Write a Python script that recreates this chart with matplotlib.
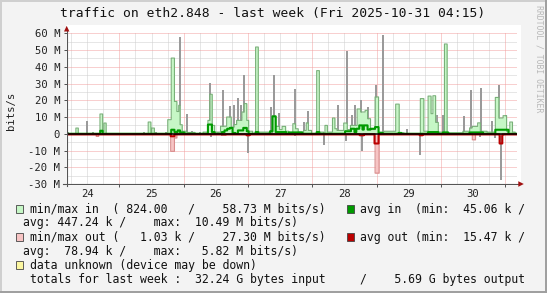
import numpy as np
import matplotlib
matplotlib.use("Agg")
import matplotlib.pyplot as plt
from matplotlib.patches import Rectangle, Polygon
from matplotlib.lines import Line2D

plt.rcParams['font.family'] = ['DejaVu Sans Mono']

W, H = 547, 293

title = "traffic on eth2.848 - last week (Fri 2025-10-31 04:15)"
watermark = "RRDTOOL / TOBI OETIKER"
y_label = "bits/s"
day_labels = ["24", "25", "26", "27", "28", "29", "30"]
first_midnight_h = 19.75   # hours from 2025-10-24 04:15 to 2025-10-25 00:00
span_h = 168
y_ticks = [-30, -20, -10, 0, 10, 20, 30, 40, 50, 60]
y_tick_labels = ["-30 M", "-20 M", "-10 M", "0", "10 M", "20 M",
                 "30 M", "40 M", "50 M", "60 M"]

# (start hour, end hour, Mbit/s)
in_max_segments = [
    (3.5, 4.4, 3.4), (12.5, 13.5, 11.8), (13.5, 14.0, 1.0), (14.0, 14.8, 6.4),
    (30.5, 31.5, 7.0), (31.8, 32.8, 3.4),
    (37.8, 39.1, 8.4), (39.1, 40.3, 45.2), (40.3, 41.2, 19.3), (41.2, 41.9, 13.3),
    (41.9, 42.4, 17.0), (42.4, 43.2, 5.4), (43.2, 45.0, 1.5), (45.0, 48.0, 0.8),
    (51.0, 52.8, 1.0), (52.8, 53.5, 8.0), (53.5, 54.4, 23.6), (54.4, 55.3, 5.0),
    (55.3, 57.5, 1.0), (57.5, 59.8, 4.5), (59.8, 61.5, 10.0), (61.5, 62.5, 4.0),
    (62.5, 63.5, 5.5), (63.5, 65.5, 8.0), (65.5, 66.3, 13.0), (66.3, 67.3, 18.0),
    (67.3, 68.0, 8.0), (68.0, 69.5, 1.5), (70.6, 71.6, 51.8), (71.6, 75.5, 1.0),
    (76.9, 78.1, 10.5), (78.1, 79.5, 4.4), (79.5, 80.5, 2.5), (80.5, 81.8, 4.4),
    (81.8, 83.0, 1.5), (84.5, 85.5, 6.0), (85.5, 86.5, 3.0), (86.5, 88.5, 1.0),
    (88.5, 89.5, 2.0), (89.5, 90.3, 6.5), (90.3, 91.5, 2.0),
    (93.4, 94.4, 37.7), (94.4, 96.0, 1.0), (96.5, 97.4, 5.0), (97.4, 99.3, 1.0),
    (99.3, 100.2, 9.4), (100.2, 101.0, 3.0), (101.0, 103.5, 2.0),
    (103.5, 104.8, 6.4), (104.8, 106.0, 2.5), (106.0, 108.5, 5.0),
    (108.5, 109.8, 14.8), (109.8, 111.5, 13.0), (111.5, 112.4, 14.0),
    (112.4, 113.5, 9.0), (113.5, 115.2, 2.5), (115.2, 116.5, 22.0),
    (116.5, 118.5, 1.0), (118.5, 122.9, 1.5), (122.9, 124.2, 17.7), (124.2, 126.0, 0.5),
    (132.1, 133.4, 21.0), (133.4, 135.0, 1.5), (135.0, 136.1, 22.5),
    (136.1, 136.8, 12.0), (136.8, 137.8, 22.7), (137.8, 138.8, 6.8),
    (138.8, 141.1, 1.0), (141.1, 142.1, 53.6), (142.1, 148.0, 0.5),
    (148.0, 150.5, 1.5), (150.5, 151.5, 3.5), (151.5, 153.5, 4.4),
    (153.5, 154.5, 6.5), (154.5, 157.0, 1.5), (157.0, 160.1, 1.0),
    (160.1, 161.4, 21.7), (161.4, 163.0, 9.4), (163.0, 164.3, 10.8),
    (164.3, 165.5, 1.5), (165.5, 166.5, 7.0), (166.5, 167.5, 1.0),
]

in_avg_segments = [
    (12.6, 13.5, 1.8), (39.1, 40.3, 2.4), (40.3, 41.5, 1.0), (41.5, 42.4, 2.0),
    (42.4, 44.0, 0.8), (52.8, 54.3, 5.5), (54.3, 55.3, 1.0),
    (58.0, 59.0, 1.0), (59.0, 60.0, 2.0), (60.0, 61.0, 3.0), (61.0, 62.0, 3.5),
    (62.0, 63.0, 0.5), (64.0, 66.0, 2.0), (66.0, 67.3, 3.5), (67.3, 68.0, 1.5),
    (70.6, 71.6, 1.0), (76.0, 76.9, 1.5), (76.9, 78.1, 10.4), (78.1, 82.0, 1.0),
    (83.0, 88.0, 0.8), (93.4, 94.4, 1.0),
    (104.0, 106.2, 1.5), (106.2, 107.5, 3.0), (107.5, 108.2, 1.0),
    (108.2, 109.3, 3.0), (109.3, 110.5, 5.0), (110.5, 111.0, 2.5),
    (111.0, 112.4, 5.0), (112.4, 113.5, 2.5), (113.5, 115.2, 3.0),
    (115.2, 116.5, 4.0), (116.5, 118.0, 0.5), (124.0, 125.0, 0.5),
    (135.0, 138.8, 1.0), (140.5, 142.5, 0.8), (150.5, 155.5, 0.8),
    (160.1, 165.0, 2.4),
]

out_max_segments = [
    (11.1, 12.0, 1.6), (38.9, 40.3, 10.5), (40.3, 41.2, 2.5), (58.5, 59.5, 1.0),
    (115.2, 116.7, 23.5), (151.5, 152.7, 3.6), (161.5, 163.2, 1.0),
]

out_avg_base = 0.4
out_avg_segments = [
    (38.9, 40.3, 1.5), (67.3, 68.3, 0.9), (109.5, 111.0, 0.9),
    (115.0, 116.5, 5.8), (131.9, 132.9, 0.9), (161.7, 162.7, 5.8),
]

# peak (5-min max) spikes: hour, Mbit/s
peak_hours = [0.5, 7.8, 10.0, 29.0, 33.5, 37.0, 40.8, 42.2, 45.0, 47.0, 50.0,
              53.7, 56.5, 58.6, 61.2, 62.7, 64.2, 65.0, 66.2, 76.2, 77.3, 79.2,
              85.4, 88.8, 90.3, 101.4, 104.9, 106.5, 107.8, 109.9, 112.7, 115.5,
              118.3, 127.2, 138.5, 140.6, 148.4, 150.9, 154.6, 158.9, 161.5, 164.0,
              3.0, 11.5, 53.8, 58.0, 67.6, 85.2, 96.2, 104.3, 110.5, 132.1, 154.4,
              159.8, 162.3]
peak_values = [1.0, 7.8, 1.0, 1.0, 0.8, 1.0, 16.0, 57.6, 11.8, 1.5, 1.0,
               30.3, 1.0, 26.3, 16.5, 17.3, 21.3, 17.0, 34.8, 16.0, 34.8, 12.4,
               26.7, 7.0, 13.7, 17.3, 49.2, 11.4, 17.3, 20.3, 15.7, 29.3,
               58.7, 3.0, 11.4, 11.4, 10.4, 26.3, 27.3, 7.4, 28.9, 11.0,
               -1.0, -2.0, -2.0, -1.5, -11.2, -1.6, -6.8, -4.6, -10.2, -12.6, -2.2,
               -2.6, -27.5]

legend_lines = [
    ("min/max in  ( 824.00   /    58.73 M bits/s)", "avg in  (min:  45.06 k /"),
    ("avg: 447.24 k /    max:  10.49 M bits/s)", None),
    ("min/max out (   1.03 k /    27.30 M bits/s)", "avg out (min:  15.47 k /"),
    ("avg:  78.94 k /    max:   5.82 M bits/s)", None),
    ("data unknown (device may be down)", None),
    ("totals for last week :  32.24 G bytes input     /    5.69 G bytes output", None),
]

C_IN_MAX, C_IN_MAX_EDGE = "#c6f7c6", "#78b078"
C_IN_AVG = "#009a00"
C_OUT_MAX, C_OUT_MAX_EDGE = "#f7c4c4", "#d88c8c"
C_OUT_AVG = "#bb0000"
C_UNKNOWN = "#fbf6a0"
C_PEAK = "#9a9a9a"
C_BG = "#f3f3f3"

# ---------------------------------------------------------------
fig = plt.figure(figsize=(W / 100, H / 100), dpi=100, facecolor=C_BG)

def fx(x):
    return x / W

def fy(y):
    return 1 - y / H

# white canvas
fig.patches.append(Rectangle((fx(66), fy(186)), (521 - 66) / W, (186 - 25) / H,
                             transform=fig.transFigure, facecolor="white",
                             edgecolor="none", zorder=-5))

ax = fig.add_axes([fx(66.5), fy(184), 450 / W, (184 - 33.3) / H])
ax.set_zorder(1)
ax.set_facecolor("white")
ax.set_xlim(0, span_h)
ax.set_ylim(-30, 60)
for s in ax.spines.values():
    s.set_visible(False)

dot = (0, (1, 1))
for v in range(-25, 61, 5):
    if v == 0:
        continue
    if v % 10 == 0:
        ax.axhline(v, color="#f2a0a0", lw=0.72, ls=dot, zorder=0.6)
    else:
        ax.axhline(v, color="#cfcfcf", lw=0.72, ls=dot, zorder=0.5)
midnights = [first_midnight_h + 24 * k for k in range(len(day_labels))]
noons = [m - 12 for m in midnights]
h = first_midnight_h - 18
while h < span_h:
    if not any(abs(h - m) < 1e-6 for m in midnights):
        ax.axvline(h, color="#cfcfcf", lw=0.72, ls=dot, zorder=0.5)
    h += 6
for m in midnights:
    ax.axvline(m, color="#f2a0a0", lw=0.72, ls=dot, zorder=0.6)

t = np.arange(0, span_h + 0.025, 0.05)

def build(segs, base=0.0):
    v = np.full_like(t, base)
    for s, e, val in segs:
        v[(t >= s) & (t < e)] = val
    return v

in_max = build(in_max_segments)
in_avg = build(in_avg_segments)
out_max = build(out_max_segments)
out_avg = build(out_avg_segments, out_avg_base)

ax.bar(peak_hours, peak_values, width=0.75, color=C_PEAK, lw=0, zorder=1)

ax.fill_between(t, 0, in_max, step="post", color=C_IN_MAX, lw=0, zorder=2)
ax.step(t, in_max, where="post", color=C_IN_MAX_EDGE, lw=0.8, zorder=2.2)
ax.fill_between(t, 0, -out_max, step="post", color=C_OUT_MAX, lw=0, zorder=2)
ax.step(t, -out_max, where="post", color=C_OUT_MAX_EDGE, lw=0.8, zorder=2.2)

ax.step(t, in_avg, where="post", color=C_IN_AVG, lw=1.5, zorder=3)
ax.step(t, -out_avg, where="post", color=C_OUT_AVG, lw=1.5, zorder=3)
ax.axhline(0, color="black", lw=1.1, zorder=4)

ax.set_yticks(y_ticks, y_tick_labels)
ax.tick_params(axis="y", length=2.2, width=0.72, pad=2.4, colors="#555555",
               labelcolor="#222222", labelsize=7.6)
ax.set_xticks(noons, day_labels)
ax.tick_params(axis="x", which="major", length=0, pad=3.6, labelcolor="#222222",
               labelsize=7.6)
ax.set_xticks(midnights, minor=True)
ax.tick_params(axis="x", which="minor", length=2.2, width=0.72, colors="#555555")

# axes lines with arrows
axc = "#555555"
fig.add_artist(Line2D([fx(66.7), fx(66.7)], [fy(186), fy(29)], color=axc, lw=0.8, zorder=5))
fig.add_artist(Line2D([fx(63), fx(519)], [fy(184), fy(184)], color=axc, lw=0.8, zorder=5))
fig.add_artist(Polygon([(fx(64), fy(31.5)), (fx(69.4), fy(31.5)), (fx(66.7), fy(25.8))],
                       closed=True, facecolor="#a01010", edgecolor="none", zorder=5))
fig.add_artist(Polygon([(fx(518.3), fy(181.2)), (fx(518.3), fy(186.8)), (fx(523.8), fy(184))],
                       closed=True, facecolor="#a01010", edgecolor="none", zorder=5))

# texts
fig.text(fx(273), fy(13.3), title, ha="center", va="center", fontsize=9.4, color="#111111")
fig.text(fx(538.5), fy(5), watermark, ha="center", va="top", rotation=270,
         fontsize=5.9, color="#b8b8b8")
fig.text(fx(10.5), fy(111), y_label, ha="center", va="center", rotation=90,
         fontsize=7.6, color="#222222")

rows_y = [209.3, 222.7, 237.3, 251.0, 265.3, 279.0]
indent = {0: 30.0, 1: 22.8, 2: 30.0, 3: 22.8, 4: 30.0, 5: 30.0}
squares = {0: (15.7, C_IN_MAX), 2: (15.7, C_OUT_MAX), 4: (15.7, C_UNKNOWN)}
right_squares = {0: C_IN_AVG, 2: C_OUT_AVG}
for i, (left, right) in enumerate(legend_lines):
    y = rows_y[i]
    fig.text(fx(indent[i]), fy(y), left, ha="left", va="center", fontsize=8.3,
             color="#111111")
    if i in squares:
        sx, col = squares[i]
        fig.patches.append(Rectangle((fx(sx), fy(y + 4)), 7.3 / W, 8 / H,
                                     transform=fig.transFigure, facecolor=col,
                                     edgecolor="#444444", lw=0.6))
    if right is not None:
        fig.text(fx(360.5), fy(y), right, ha="left", va="center", fontsize=8.3,
                 color="#111111")
        fig.patches.append(Rectangle((fx(346.5), fy(y + 4)), 7.3 / W, 8 / H,
                                     transform=fig.transFigure,
                                     facecolor=right_squares[i],
                                     edgecolor="#444444", lw=0.6))

# frame shading
fig.add_artist(Line2D([fx(0.5), fx(546.5)], [fy(0.8), fy(0.8)], color="#cfcfcf", lw=1.4))
fig.add_artist(Line2D([fx(0.8), fx(0.8)], [fy(0.5), fy(292.5)], color="#cfcfcf", lw=1.4))
fig.add_artist(Line2D([fx(0.5), fx(546.5)], [fy(292.2), fy(292.2)], color="#9e9e9e", lw=1.4))
fig.add_artist(Line2D([fx(546.2), fx(546.2)], [fy(0.5), fy(292.5)], color="#9e9e9e", lw=1.4))

fig.savefig("out.png", dpi=100, facecolor=C_BG)
